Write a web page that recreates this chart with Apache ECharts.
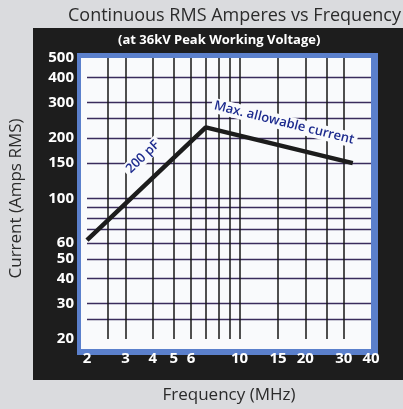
<!DOCTYPE html>
<html>
<head>
<meta charset="utf-8">
<script src="https://cdn.jsdelivr.net/npm/echarts@6/dist/echarts.min.js"></script>
<style>
  html, body { margin: 0; padding: 0; background: #dadbde; }
  #main { width: 403px; height: 409px; }
</style>
</head>
<body>
<div id="main"></div>
<script>
// curve: 200 pF rise then max allowable current
var freqMHz = [2, 7, 33];
var ampsRms = [62, 226, 150];
// grid lines and tick labels
var xGridVals = [2.5, 3, 4, 5, 6, 7, 8, 9, 10, 15, 20, 25, 30];
var yGridVals = [25, 30, 40, 50, 60, 70, 80, 90, 100, 150, 200, 250, 300, 400];
var xTickVals = [2, 3, 4, 5, 6, 10, 15, 20, 30, 40];
var yTickVals = [20, 30, 40, 50, 60, 100, 150, 200, 300, 400, 500];

var lineData = [];
for (var i = 0; i < freqMHz.length; i++) {
    lineData.push([freqMHz[i], ampsRms[i]]);
}

var chart = echarts.init(document.getElementById('main'));
var option = {
    backgroundColor: '#dadbde',
    animation: false,
    title: {
        text: 'Continuous RMS Amperes vs Frequency',
        left: 63,
        top: 2,
        textStyle: { color: '#2b2b2b', fontSize: 18, fontWeight: 'normal', fontFamily: '"Open Sans", sans-serif' }
    },
    graphic: [
        // black frame
        { type: 'rect', z: -10, shape: { x: 33, y: 28, width: 370, height: 352 }, style: { fill: '#1d1d1d' } },
        // blue border round the plot, white plot area inside
        { type: 'rect', z: -9, shape: { x: 77, y: 53, width: 301, height: 302 }, style: { fill: '#5b80cc' } },
        { type: 'rect', z: -8, shape: { x: 81, y: 58, width: 290, height: 291 }, style: { fill: '#f9fafc' } },
        {
            type: 'text', z: 10, left: 118, top: 34,
            style: { text: '(at 36kV Peak Working Voltage)', fill: '#ffffff', font: 'bold 13px "Open Sans", sans-serif' }
        }
    ],
    grid: {
        left: 81, right: 32, top: 58, bottom: 60
    },
    xAxis: {
        type: 'log',
        logBase: 10,
        min: 2,
        max: 40,
        name: 'Frequency (MHz)',
        nameLocation: 'middle',
        nameGap: 48,
        nameTextStyle: { color: '#2b2b2b', fontSize: 17, fontFamily: '"Open Sans", sans-serif' },
        axisLine: { show: false },
        axisTick: { show: false, customValues: xGridVals },
        axisLabel: {
            customValues: xTickVals, color: '#ffffff', margin: 12,
            fontWeight: 'bold', fontSize: 15, fontFamily: '"Open Sans", sans-serif'
        },
        splitLine: { show: true, lineStyle: { color: '#161616', width: 1.5 } },
        minorSplitLine: { show: false }
    },
    yAxis: {
        type: 'log',
        logBase: 10,
        min: 20,
        max: 500,
        name: 'Current (Amps RMS)',
        nameLocation: 'middle',
        nameGap: 62,
        nameTextStyle: { color: '#2b2b2b', fontSize: 17, fontFamily: '"Open Sans", sans-serif' },
        axisLine: { show: false },
        axisTick: { show: false, customValues: yGridVals },
        axisLabel: {
            customValues: yTickVals, color: '#ffffff', margin: 13,
            fontWeight: 'bold', fontSize: 15, fontFamily: '"Open Sans", sans-serif'
        },
        splitLine: { show: true, lineStyle: { color: '#3a2c5c', width: 1.4 } }
    },
    series: [{
        name: 'Max. allowable current',
        type: 'line',
        data: lineData,
        symbol: 'none',
        clip: false,
        lineStyle: { color: '#1c1c1c', width: 4.5 },
        z: 3,
        markPoint: {
            symbol: 'rect',
            symbolSize: 0,
            silent: true,
            label: {
                show: true,
                color: '#1d2b8e',
                fontSize: 13,
                fontWeight: 600,
                fontFamily: '"Open Sans", sans-serif',
                backgroundColor: '#f9fafc',
                padding: [1, 3]
            },
            data: [
                { coord: [3.6, 161], label: { formatter: '200 pF', rotate: 44 } },
                { coord: [16, 238], label: { formatter: 'Max. allowable current', rotate: -14 } }
            ]
        }
    }]
};
chart.setOption(option);
</script>
</body>
</html>
